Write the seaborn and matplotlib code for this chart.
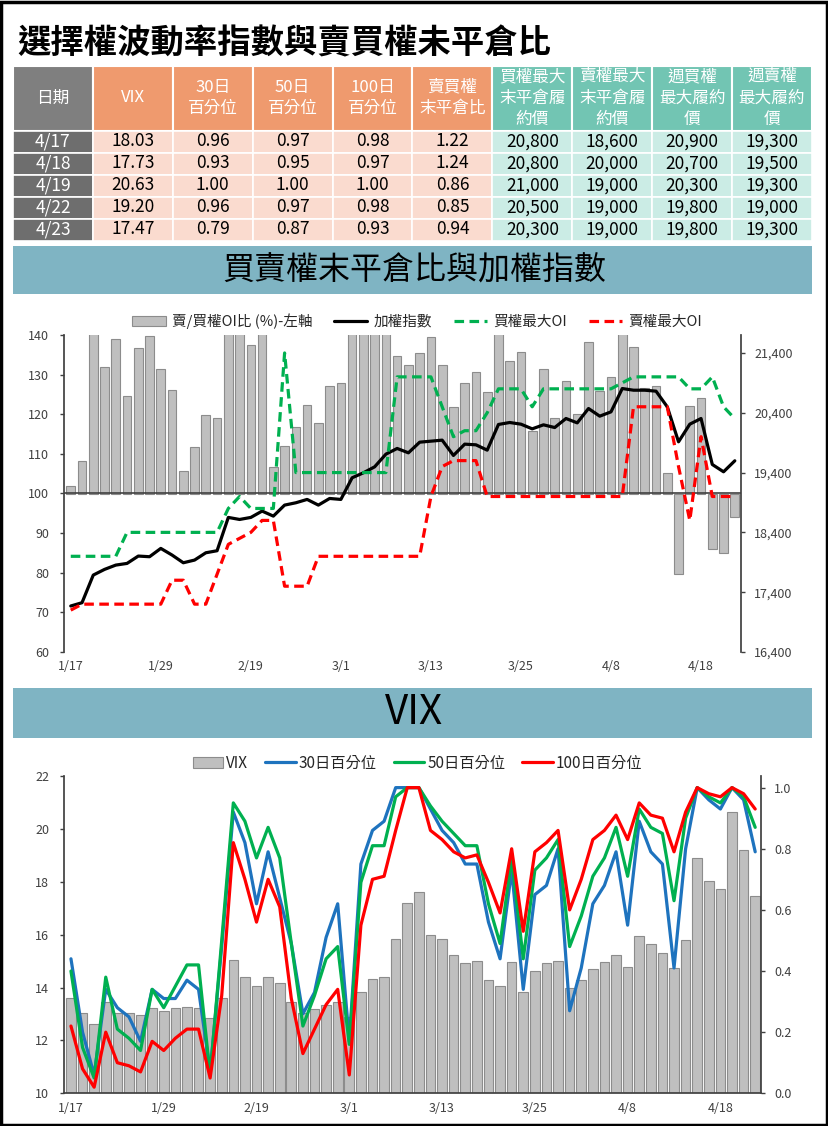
import numpy as np
import matplotlib
matplotlib.use("Agg")
import matplotlib.pyplot as plt
import seaborn as sns
from matplotlib.patches import Rectangle, Patch
from matplotlib.lines import Line2D
from matplotlib.ticker import FuncFormatter

# ---------------- data ----------------
dates = ["1/17", "1/18", "1/19", "1/22", "1/23", "1/24", "1/25", "1/26", "1/29", "1/30",
         "1/31", "2/1", "2/2", "2/5", "2/15", "2/16", "2/19", "2/20", "2/21", "2/22",
         "2/23", "2/26", "2/27", "2/29", "3/1", "3/4", "3/5", "3/6", "3/7", "3/8",
         "3/11", "3/12", "3/13", "3/14", "3/15", "3/18", "3/19", "3/20", "3/21", "3/22",
         "3/25", "3/26", "3/27", "3/28", "3/29", "4/1", "4/2", "4/3", "4/8", "4/9",
         "4/10", "4/11", "4/12", "4/15", "4/16", "4/17", "4/18", "4/19", "4/22", "4/23"]
tick_labels = ["1/17", "1/29", "2/19", "3/1", "3/13", "3/25", "4/8", "4/18"]

oi_ratio = [102.0, 108.2, 148.0, 131.9, 139.0, 124.6, 136.7, 139.7, 131.4, 126.1,
            105.7, 111.8, 119.8, 119.1, 147.0, 149.0, 137.5, 146.0, 106.8, 112.0,
            116.8, 122.3, 117.8, 127.1, 127.9, 146.0, 148.0, 150.0, 147.0, 134.7,
            132.4, 135.4, 139.5, 132.4, 121.8, 127.9, 130.6, 125.6, 145.0, 133.4,
            135.7, 115.8, 131.4, 119.1, 128.5, 120.1, 138.2, 125.9, 129.4, 144.0,
            136.9, 126.7, 127.2, 105.2, 79.8, 122.0, 124.0, 86.0, 85.0, 94.0]
taiex = [17169, 17224, 17686, 17781, 17853, 17881, 18004, 17993, 18132, 18021,
         17892, 17937, 18059, 18093, 18650, 18616, 18650, 18756, 18672, 18856,
         18895, 18951, 18856, 18967, 18951, 19313, 19396, 19496, 19708, 19803,
         19730, 19908, 19925, 19942, 19686, 19875, 19864, 19775, 20204, 20237,
         20209, 20131, 20198, 20153, 20304, 20231, 20471, 20343, 20415, 20805,
         20777, 20777, 20761, 20499, 19914, 20209, 20304, 19535, 19413, 19597]
call_max_oi = [18000, 18000, 18000, 18000, 18000, 18400, 18400, 18400, 18400, 18400,
               18400, 18400, 18400, 18400, 18800, 19000, 18800, 18800, 18800, 21400,
               19400, 19400, 19400, 19400, 19400, 19400, 19400, 19400, 19400, 21000,
               21000, 21000, 21000, 20500, 20000, 20100, 20100, 20400, 20800, 20800,
               20800, 20500, 20800, 20800, 20800, 20800, 20800, 20800, 20800, 20900,
               21000, 21000, 21000, 21000, 21000, 20800, 20800, 21000, 20500, 20300]
put_max_oi = [17100, 17200, 17200, 17200, 17200, 17200, 17200, 17200, 17200, 17600,
              17600, 17200, 17200, 17700, 18200, 18300, 18400, 18600, 18600, 17500,
              17500, 17500, 18000, 18000, 18000, 18000, 18000, 18000, 18000, 18000,
              18000, 18000, 19000, 19500, 19600, 19600, 19600, 19000, 19000, 19000,
              19000, 19000, 19000, 19000, 19000, 19000, 19000, 19000, 19000, 19000,
              20500, 20500, 20500, 20500, 19500, 18600, 20000, 19000, 19000, 19000]

vix = [13.59, 13.03, 12.61, 13.44, 13.03, 13.03, 12.96, 13.21, 13.11, 13.21,
       13.25, 13.21, 12.84, 13.59, 15.03, 14.41, 14.07, 14.41, 14.16, 13.44,
       13.05, 13.18, 13.33, 13.44, 12.87, 13.82, 14.34, 14.39, 15.85, 17.21,
       17.63, 15.98, 15.82, 15.22, 14.92, 15.02, 14.27, 14.05, 14.98, 13.82,
       14.61, 14.94, 15.02, 13.97, 14.28, 14.69, 14.98, 15.22, 14.79, 15.94,
       15.63, 15.29, 14.75, 15.79, 18.91, 18.03, 17.73, 20.63, 19.20, 17.47]
pct30 = [0.44, 0.20, 0.06, 0.34, 0.28, 0.25, 0.17, 0.34, 0.31, 0.31,
         0.37, 0.34, 0.07, 0.48, 0.92, 0.82, 0.62, 0.79, 0.64, 0.49,
         0.26, 0.33, 0.51, 0.62, 0.17, 0.75, 0.86, 0.89, 1.00, 1.00,
         1.00, 0.93, 0.86, 0.82, 0.75, 0.75, 0.56, 0.44, 0.73, 0.34,
         0.65, 0.68, 0.80, 0.27, 0.41, 0.62, 0.68, 0.79, 0.55, 0.89,
         0.79, 0.75, 0.41, 0.80, 1.00, 0.96, 0.93, 1.00, 0.96, 0.79]
pct50 = [0.40, 0.15, 0.05, 0.38, 0.21, 0.18, 0.14, 0.34, 0.28, 0.35,
         0.42, 0.42, 0.06, 0.50, 0.95, 0.89, 0.77, 0.87, 0.77, 0.49,
         0.22, 0.32, 0.44, 0.48, 0.16, 0.69, 0.81, 0.81, 0.97, 1.00,
         1.00, 0.94, 0.89, 0.85, 0.81, 0.81, 0.62, 0.49, 0.77, 0.44,
         0.73, 0.77, 0.83, 0.48, 0.58, 0.71, 0.77, 0.87, 0.71, 0.93,
         0.87, 0.85, 0.63, 0.90, 1.00, 0.97, 0.95, 1.00, 0.97, 0.87]
pct100 = [0.22, 0.08, 0.02, 0.20, 0.10, 0.09, 0.07, 0.17, 0.14, 0.18,
          0.21, 0.21, 0.05, 0.32, 0.82, 0.70, 0.56, 0.70, 0.61, 0.31,
          0.13, 0.21, 0.29, 0.34, 0.06, 0.55, 0.70, 0.71, 0.86, 1.00,
          1.00, 0.86, 0.83, 0.79, 0.77, 0.78, 0.69, 0.59, 0.80, 0.53,
          0.79, 0.82, 0.86, 0.60, 0.70, 0.83, 0.86, 0.91, 0.83, 0.95,
          0.91, 0.90, 0.79, 0.92, 1.00, 0.98, 0.97, 1.00, 0.98, 0.93]

# table
tbl_header = ["日期", "VIX", "30日\n百分位", "50日\n百分位", "100日\n百分位", "賣買權\n末平倉比",
              "買權最大\n末平倉履\n約價", "賣權最大\n末平倉履\n約價", "週買權\n最大履約\n價", "週賣權\n最大履約\n價"]
tbl_dates = ["4/17", "4/18", "4/19", "4/22", "4/23"]
tbl_vix = ["18.03", "17.73", "20.63", "19.20", "17.47"]
tbl_p30 = ["0.96", "0.93", "1.00", "0.96", "0.79"]
tbl_p50 = ["0.97", "0.95", "1.00", "0.97", "0.87"]
tbl_p100 = ["0.98", "0.97", "1.00", "0.98", "0.93"]
tbl_pcr = ["1.22", "1.24", "0.86", "0.85", "0.94"]
tbl_call_oi = ["20,800", "20,800", "21,000", "20,500", "20,300"]
tbl_put_oi = ["18,600", "20,000", "19,000", "19,000", "19,000"]
tbl_wk_call = ["20,900", "20,700", "20,300", "19,800", "19,800"]
tbl_wk_put = ["19,300", "19,500", "19,300", "19,000", "19,300"]

title = "選擇權波動率指數與賣買權未平倉比"
banner1 = "買賣權末平倉比與加權指數"
banner2 = "VIX"

# ---------------- style ----------------
sns.set_theme(style="white")
FONT = ["Noto Sans CJK TC", "DejaVu Sans"]
plt.rcParams["font.family"] = FONT
plt.rcParams["axes.unicode_minus"] = False

W, H = 829, 1126
fig = plt.figure(figsize=(W / 100, H / 100), dpi=100)
fig.patch.set_facecolor("white")

bg = fig.add_axes([0, 0, 1, 1], zorder=0)
bg.set_xlim(0, W)
bg.set_ylim(H, 0)
bg.axis("off")


def fr(x0, y0, x1, y1):
    return [x0 / W, 1 - y1 / H, (x1 - x0) / W, (y1 - y0) / H]


# outer frame
bg.add_patch(Rectangle((1.5, 1.5), W - 3, H - 3, facecolor="none", edgecolor="black", lw=2.5))

# title
bg.text(17, 44, title, ha="left", va="center", fontsize=24, fontweight="bold", color="black")

# table
tx0, tx1 = 13, 812
ncol = 10
cw = (tx1 - tx0) / ncol
hy0, hy1 = 65.5, 130.5
rh = 22
head_colors = ["#7F7F7F"] + ["#EF9A6E"] * 5 + ["#72C5B3"] * 4
body_colors = ["#6E6E6E"] + ["#FADBCF"] * 5 + ["#CBECE5"] * 4
columns = [tbl_dates, tbl_vix, tbl_p30, tbl_p50, tbl_p100, tbl_pcr,
           tbl_call_oi, tbl_put_oi, tbl_wk_call, tbl_wk_put]
for j in range(ncol):
    x = tx0 + j * cw
    bg.add_patch(Rectangle((x, hy0), cw, hy1 - hy0, facecolor=head_colors[j],
                           edgecolor="white", lw=1.5))
    lines = tbl_header[j].split("\n")
    n = len(lines)
    cy = (hy0 + hy1) / 2
    for k, s in enumerate(lines):
        bg.text(x + cw / 2, cy + (k - (n - 1) / 2) * 21.5, s, ha="center", va="center",
                color="white", fontsize=12)
    for r in range(len(tbl_dates)):
        y = hy1 + r * rh
        bg.add_patch(Rectangle((x, y), cw, rh, facecolor=body_colors[j],
                               edgecolor="white", lw=1.2))
        bg.text(x + cw / 2, y + rh / 2, columns[j][r], ha="center", va="center",
                color="white" if j == 0 else "black", fontsize=12.5)

# banners
BANNER = "#7FB4C3"
bg.add_patch(Rectangle((13, 246), 799, 48, facecolor=BANNER, edgecolor="none"))
bg.text(414, 270, banner1, ha="center", va="center", fontsize=23, color="black")
bg.add_patch(Rectangle((13, 688), 799, 50, facecolor=BANNER, edgecolor="none"))
bg.text(414, 713, banner2, ha="center", va="center", fontsize=29, color="black")

AXC = "#404040"
BARC = "#BFBFBF"
BAREDGE = "#8C8C8C"
GREEN = "#00B050"
RED = "#FF0000"
BLUE = "#1E73BE"
DASH = (0, (3, 1.7))
idx = np.arange(len(dates))
tick_pos = [dates.index(t) for t in tick_labels]

# ---------------- chart 1 ----------------
ax1 = fig.add_axes(fr(64, 335, 741, 652), zorder=2)
ax1.patch.set_alpha(0)
sns.barplot(x=idx, y=np.array(oi_ratio) - 100, bottom=100, orient="x", color=BARC,
            saturation=1, edgecolor=BAREDGE, linewidth=0.8, width=0.77, errorbar=None, ax=ax1)
ax1.set_ylim(60, 140)
ax1.axhline(100, color=AXC, lw=1.2, zorder=3)
ax1r = ax1.twinx()
sns.lineplot(x=idx, y=taiex, ax=ax1r, color="black", linewidth=2.3, legend=False)
sns.lineplot(x=idx, y=call_max_oi, ax=ax1r, color=GREEN, linewidth=2.3, linestyle=DASH, legend=False)
sns.lineplot(x=idx, y=put_max_oi, ax=ax1r, color=RED, linewidth=2.3, linestyle=DASH, legend=False)
ax1r.set_ylim(16400, 21700)
ax1.set_xlim(-0.6, 59.55)
ax1.set_xticks(tick_pos)
ax1.set_xticklabels(tick_labels)
ax1.tick_params(axis="x", length=0, pad=5.5, labelsize=9, labelcolor=AXC, bottom=False)
ax1.set_yticks(range(60, 141, 10))
ax1.tick_params(axis="y", left=True, direction="out", length=3, width=1, color=AXC,
                labelsize=9, labelcolor=AXC, pad=7.5)
ax1r.set_yticks(range(16400, 21401, 1000))
ax1r.yaxis.set_major_formatter(FuncFormatter(lambda v, p: f"{v:,.0f}"))
ax1r.tick_params(axis="y", right=True, direction="out", length=3, width=1, color=AXC,
                 labelsize=9, labelcolor=AXC, pad=6.5)
for a in (ax1, ax1r):
    a.set_xlabel("")
    a.set_ylabel("")
    for s in a.spines.values():
        s.set_visible(False)
ax1.spines["left"].set_visible(True)
ax1.spines["left"].set_color(AXC)
ax1r.spines["right"].set_visible(True)
ax1r.spines["right"].set_color(AXC)

h1 = [Patch(facecolor=BARC, edgecolor=BAREDGE, lw=0.8),
      Line2D([], [], color="black", lw=2.3),
      Line2D([], [], color=GREEN, lw=2.3, ls=DASH),
      Line2D([], [], color=RED, lw=2.3, ls=DASH)]
l1 = ["賣/買權OI比 (%)-左軸", "加權指數", "買權最大OI", "賣權最大OI"]
fig.legend(h1, l1, loc="center", bbox_to_anchor=(417 / W, 1 - 321 / H), ncol=4,
           frameon=False, fontsize=10.5, handlelength=2.3, handletextpad=0.4,
           columnspacing=1.5)

# ---------------- chart 2 ----------------
ax2 = fig.add_axes(fr(64, 776, 761, 1093.3), zorder=2)
ax2.patch.set_alpha(0)
sns.barplot(x=idx, y=vix, orient="x", color=BARC, saturation=1, edgecolor=BAREDGE,
            linewidth=0.8, width=0.83, errorbar=None, ax=ax2)
ax2.set_ylim(10, 22)
ax2r = ax2.twinx()
sns.lineplot(x=idx, y=pct30, ax=ax2r, color=BLUE, linewidth=2.3, legend=False)
sns.lineplot(x=idx, y=pct50, ax=ax2r, color=GREEN, linewidth=2.3, legend=False)
sns.lineplot(x=idx, y=pct100, ax=ax2r, color=RED, linewidth=2.3, legend=False)
ax2r.set_ylim(0, 1.038)
ax2.set_xlim(-0.6, 59.5)
ax2.set_xticks(tick_pos)
ax2.set_xticklabels(tick_labels)
ax2.tick_params(axis="x", length=0, pad=6.5, labelsize=9, labelcolor=AXC, bottom=False)
ax2.set_yticks(range(10, 23, 2))
ax2.tick_params(axis="y", left=True, direction="out", length=3, width=1, color=AXC,
                labelsize=9, labelcolor=AXC, pad=7.5)
ax2r.set_yticks(np.arange(0, 1.01, 0.2))
ax2r.yaxis.set_major_formatter(FuncFormatter(lambda v, p: f"{v:.1f}"))
ax2r.tick_params(axis="y", right=True, direction="out", length=3, width=1, color=AXC,
                 labelsize=9, labelcolor=AXC, pad=6.5)
for a in (ax2, ax2r):
    a.set_xlabel("")
    a.set_ylabel("")
    for s in a.spines.values():
        s.set_visible(False)
ax2.spines["left"].set_visible(True)
ax2.spines["left"].set_color(AXC)
ax2.spines["bottom"].set_visible(True)
ax2.spines["bottom"].set_color(AXC)
ax2r.spines["right"].set_visible(True)
ax2r.spines["right"].set_color(AXC)

h2 = [Patch(facecolor=BARC, edgecolor=BAREDGE, lw=0.8),
      Line2D([], [], color=BLUE, lw=2.3),
      Line2D([], [], color=GREEN, lw=2.3),
      Line2D([], [], color=RED, lw=2.3)]
l2 = ["VIX", "30日百分位", "50日百分位", "100日百分位"]
fig.legend(h2, l2, loc="center", bbox_to_anchor=(417.5 / W, 1 - 763 / H), ncol=4,
           frameon=False, fontsize=11, handlelength=2.0, handletextpad=0.2,
           columnspacing=1.1)

fig.savefig("out.png", dpi=100)
